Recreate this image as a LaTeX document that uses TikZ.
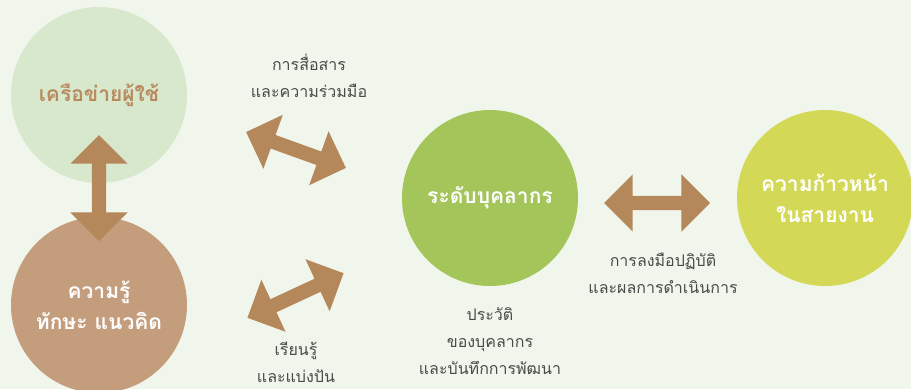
\documentclass[tikz,border=0pt]{standalone}
\usepackage{fontspec}
\newfontfamily\thaifont[Script=Thai]{Loma}
\usetikzlibrary{shapes.arrows}
\definecolor{bgc}{HTML}{F1F6EC}
\definecolor{netc}{HTML}{D8E8CC}
\definecolor{skillc}{HTML}{C49D7C}
\definecolor{staffc}{HTML}{A3C55A}
\definecolor{careerc}{HTML}{D3D957}
\definecolor{arrc}{HTML}{B5885C}
\definecolor{netTxt}{HTML}{B88A5E}
\definecolor{lblc}{HTML}{4A4A4A}
\begin{document}
\begin{tikzpicture}[x=1pt, y=-1pt, font=\thaifont\fontsize{16}{27}\selectfont, line join=round,
    ball/.style={circle, minimum size=176pt, inner sep=0pt, align=center, text=white,
      font=\thaifont\bfseries\fontsize{21}{31}\selectfont},
    dbl/.style={double arrow, fill=arrc, minimum width=57pt, minimum height=106pt,
      inner sep=7pt, double arrow head extend=21.5pt, double arrow head indent=0pt},
    lbl/.style={text=lblc, align=center}]
  \def\W{911} \def\H{389}
  % khung nen
  \useasboundingbox (0,0) rectangle (\W,\H);
  \fill[bgc] (0,0) rectangle (\W,\H);
  \clip (0,0) rectangle (\W,\H);
  % cac vong tron
  \node[ball, fill=netc, text=netTxt] (net) at (99,95) {เครือข่ายผู้ใช้};
  \node[ball, fill=skillc] (skill) at (99,305) {ความรู้\\ทักษะ แนวคิด};
  \node[ball, fill=staffc] (staff) at (490,198) {ระดับบุคลากร};
  \node[ball, fill=careerc] (career) at (825,198) {ความก้าวหน้า\\ในสายงาน};
  % mui ten hai dau
  \node[dbl, rotate=90] (arrNS) at (99,188) {};
  \node[dbl, rotate=-19.8] (arrComm) at (296,150) {};
  \node[dbl, rotate=24.9] (arrShare) at (295.5,295.5) {};
  \node[dbl] (arrAct) at (657,203) {};
  % nhan
  \node[lbl] (lblComm) at (309,76) {การสื่อสาร\\และความร่วมมือ};
  \node[lbl] (lblShare) at (296,362) {เรียนรู้\\และแบ่งปัน};
  \node[lbl] (lblHist) at (490,341) {ประวัติ\\ของบุคลากร\\และบันทึกการพัฒนา};
  \node[lbl] (lblAct) at (663,273) {การลงมือปฏิบัติ\\และผลการดำเนินการ};
\end{tikzpicture}
\end{document}
